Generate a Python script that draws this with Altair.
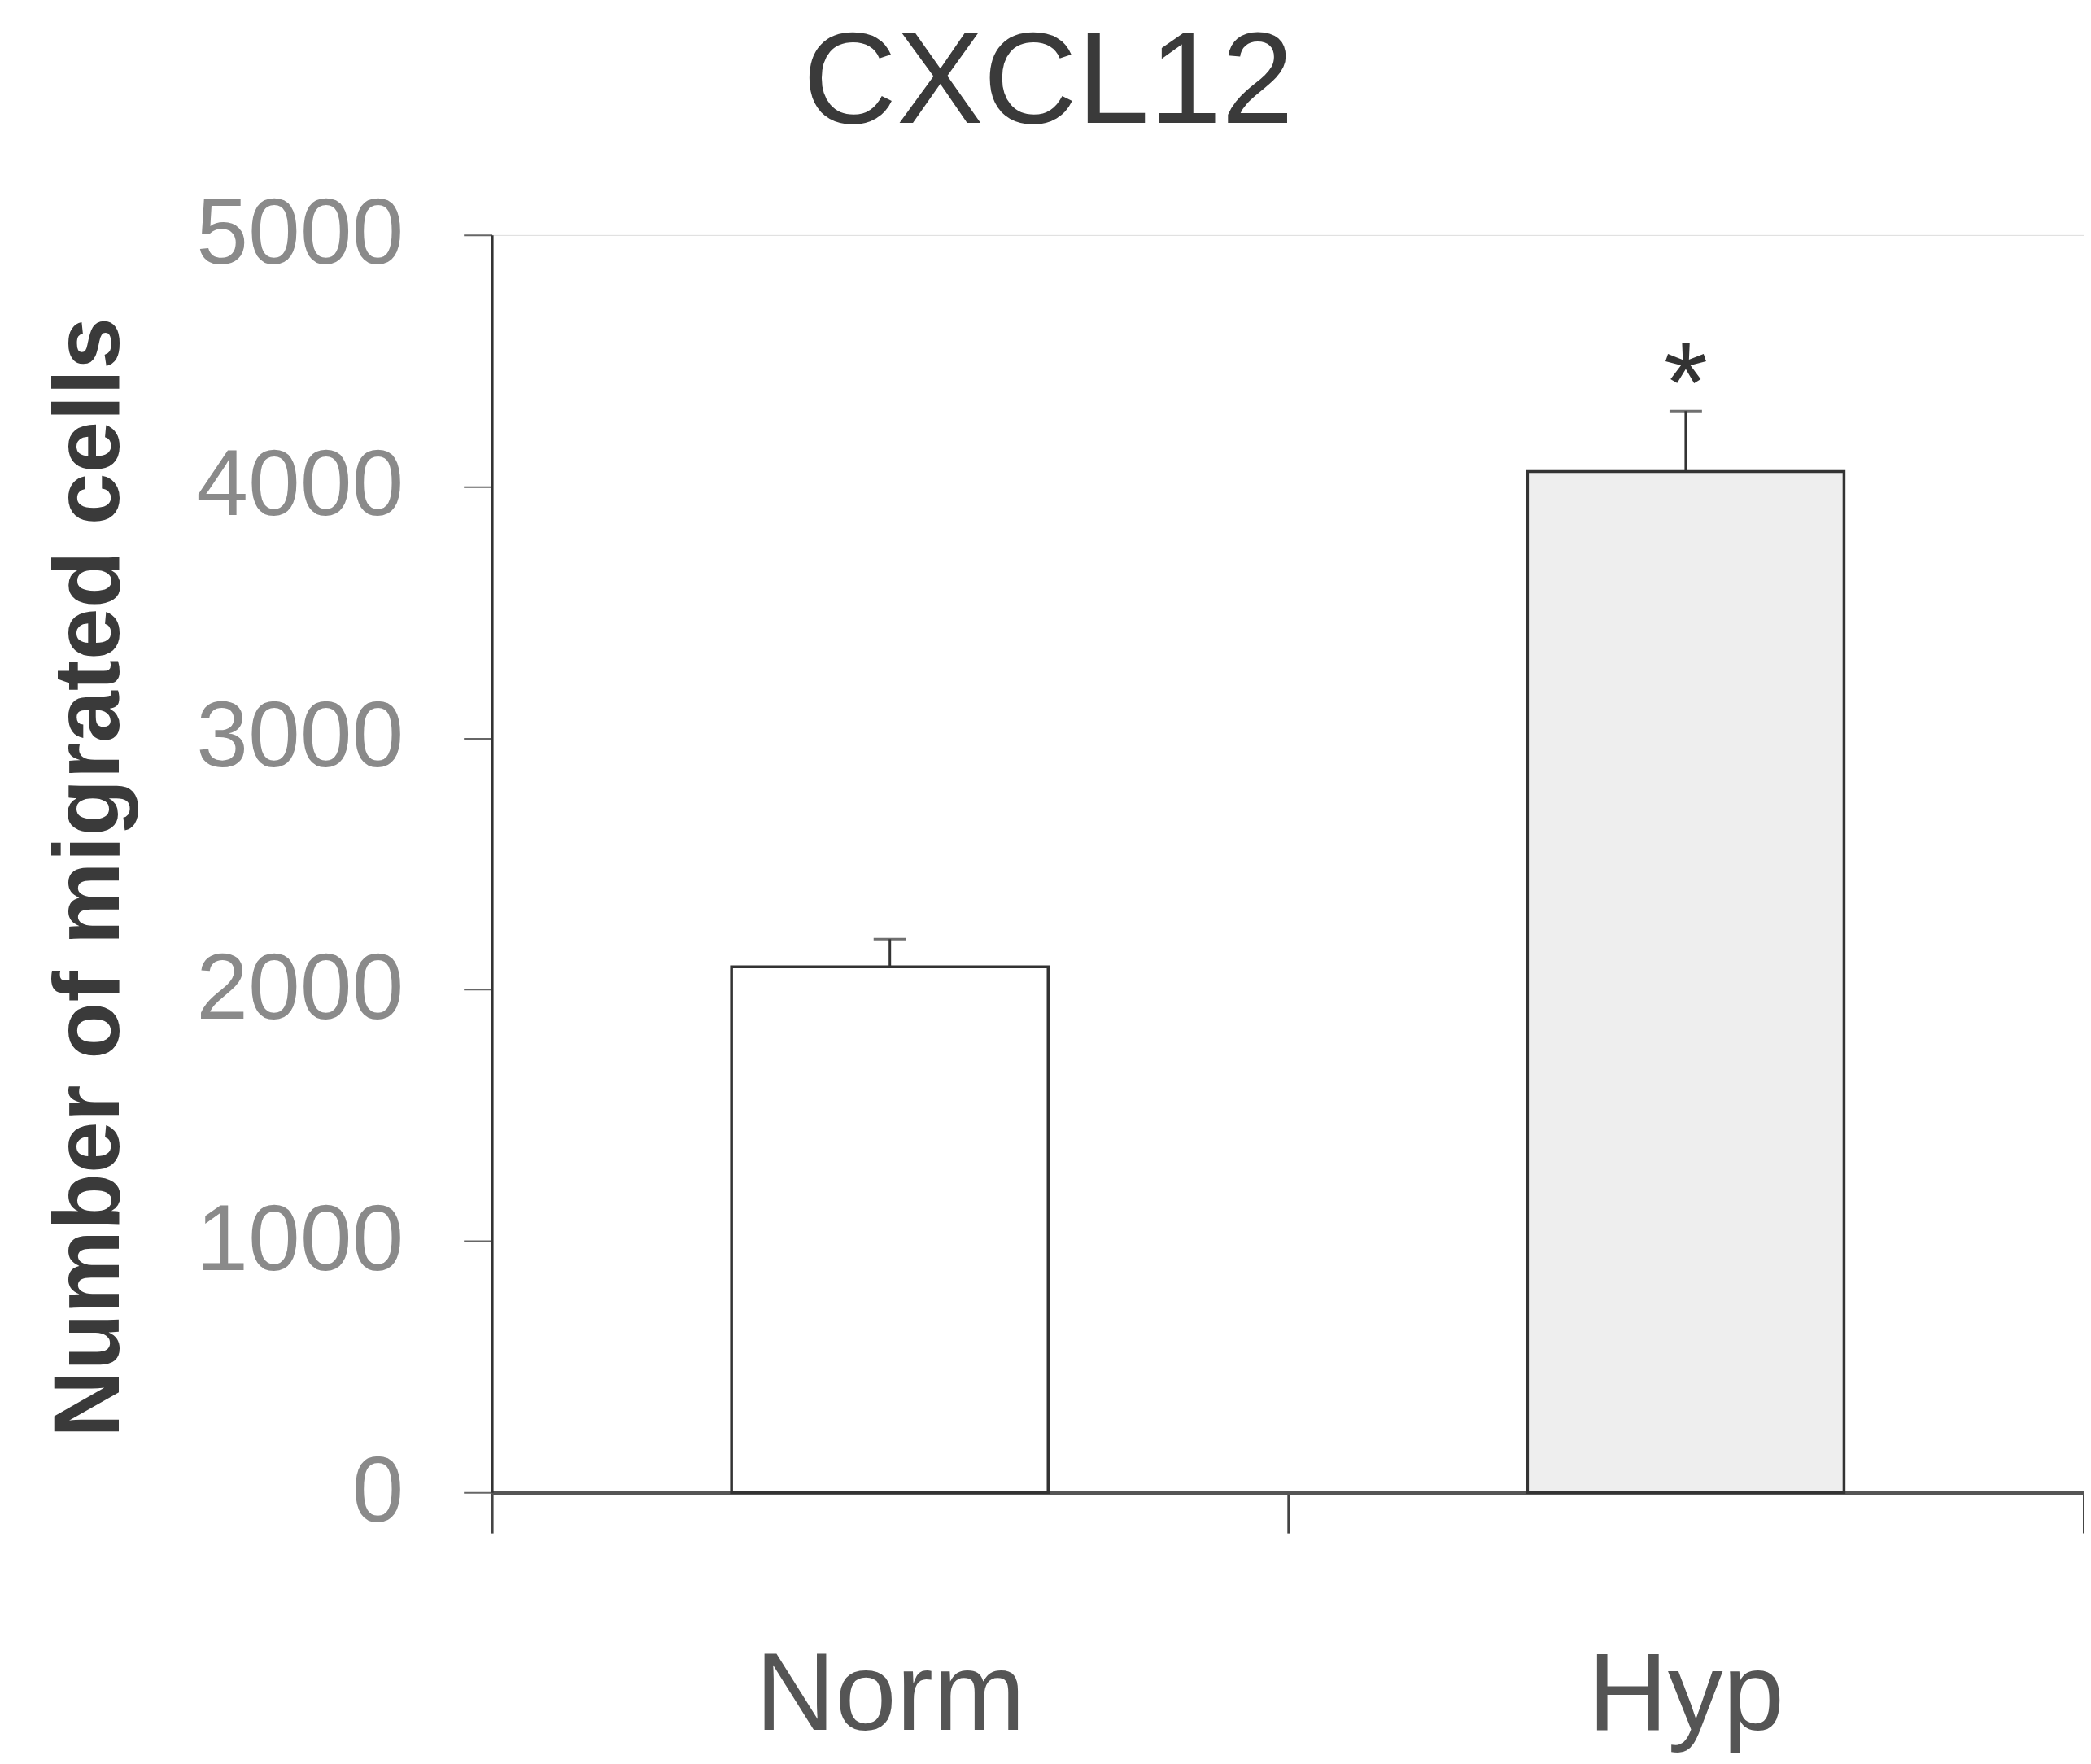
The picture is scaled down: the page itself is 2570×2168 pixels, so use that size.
import altair as alt
import pandas as pd

groups = ["Norm", "Hyp"]
means = [2090, 4060]
errs = [110, 240]
fills = ["#ffffff", "#eeeeee"]
stars = ["", "*"]

df = pd.DataFrame({
    "group": groups,
    "mean": means,
    "upper": [m + e for m, e in zip(means, errs)],
    "star": stars,
})

FONT = "Liberation Sans"

x_enc = alt.X(
    "group:N",
    sort=groups,
    scale=alt.Scale(paddingInner=0, paddingOuter=0),
    axis=alt.Axis(
        title=None,
        labelAngle=0,
        labelLimit=0,
        tickBand="extent",
        tickSize=50,
        tickWidth=3,
        tickColor="#444444",
        domainColor="#555555",
        domainWidth=5,
        labelFontSize=136,
        labelColor="#555555",
        labelFont=FONT,
        labelPadding=135,
    ),
)

y_scale = alt.Scale(domain=[0, 5000], nice=False)

bars = alt.Chart(df).mark_bar(
    size=390, stroke="#333333", strokeWidth=3.5
).encode(
    x=x_enc,
    y=alt.Y(
        "mean:Q",
        scale=y_scale,
        axis=alt.Axis(
            values=[0, 1000, 2000, 3000, 4000, 5000],
            format="d",
            grid=False,
            labelLimit=0,
            tickSize=35,
            tickWidth=2,
            tickColor="#666666",
            domainColor="#333333",
            domainWidth=3,
            labelFontSize=115,
            labelColor="#8a8a8a",
            labelFont=FONT,
            labelPadding=74,
            title="Number of migrated cells",
            titleFontSize=115,
            titleFont=FONT,
            titleFontWeight="bold",
            titleColor="#3a3a3a",
            titleAngle=270,
            titleAlign="center",
            titleBaseline="middle",
            titleX=-495,
            titleY=791,
            titleLimit=0,
        ),
    ),
    color=alt.Color("group:N", scale=alt.Scale(domain=groups, range=fills), legend=None),
)

err_rule = alt.Chart(df).mark_rule(color="#333333", strokeWidth=3).encode(
    x=alt.X("group:N", sort=groups),
    y=alt.Y("mean:Q", scale=y_scale),
    y2="upper:Q",
)

err_cap = alt.Chart(df).mark_tick(color="#333333", thickness=3, size=40).encode(
    x=alt.X("group:N", sort=groups),
    y=alt.Y("upper:Q", scale=y_scale),
)

star_text = alt.Chart(df).mark_text(
    fontSize=140, font=FONT, color="#333333", baseline="alphabetic", dy=13
).encode(
    x=alt.X("group:N", sort=groups),
    y=alt.Y("upper:Q", scale=y_scale),
    text="star:N",
)

chart = alt.layer(bars, err_rule, err_cap, star_text).properties(
    width=1961,
    height=1549,
    autosize=alt.AutoSizeParams(type="none"),
    padding={"left": 598, "top": 279, "right": 1, "bottom": 324},
    title=alt.TitleParams(
        "CXCL12",
        fontSize=160,
        font=FONT,
        fontWeight="normal",
        color="#3a3a3a",
        anchor="start",
        frame="group",
        dx=383,
        offset=-113,
        baseline="bottom",
        limit=0,
    ),
).configure_view(stroke="#cfcfcf", strokeWidth=2).configure(background="white")

chart.save("out.html", embed_options={"renderer": "svg", "actions": False})
